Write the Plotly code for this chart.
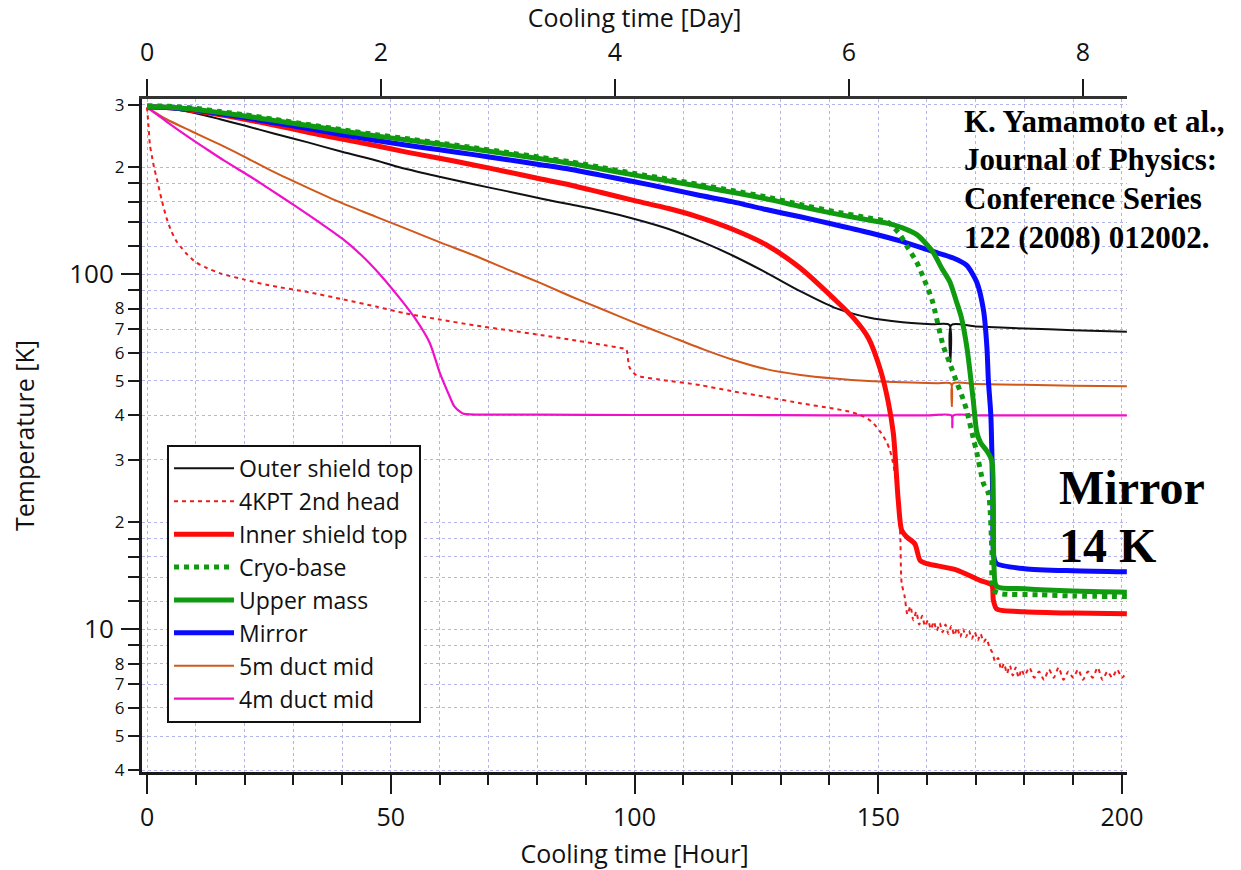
import plotly.graph_objects as go

# ---------------- data (hours, Kelvin) ----------------
h_outer = [0,3,6,10,15,20,26,33,40,47,53,60,67,74,81,87,93,100,107,114,120,127,134,141,148,155,161,164.6,164.8,165.0,170,180,190,201]
T_outer = [296,294,291,284,273,262,249,235,221,209,198,188,179,171,163,157,151,143,134,123,113,101,89.5,80.5,75.5,73.2,72.2,71.9,56.6,71.9,71.2,70.3,69.5,68.8]

h_4kpt = [0,0.3,0.6,1,1.5,2,3,4,5,6,7,8,9,10,12,15,20,25,33,40,47,53,60,67,74,81,88,94,97.7,98.3,99,100.4,105,113.4,120,127,134,140.8,144,146.3,148,149,150.4,151.7,152.4,153,153.4,154,154.5,154.8,
          155.4,156,156.6,157.2,157.8,158.4,159,159.6,160.2,160.8,161.4,162,162.6,163.2,163.8,164.4,165,165.6,166.2,166.8,167.4,168,168.6,169.2,169.8,170.4,171,171.6,172.2,172.8,173.4,174,174.6,175.2,175.8,176.4,177,177.6,178.2,178.8,179.4,
          180,181,182,183,184,185,186,187,188,189,190,191,192,193,194,195,196,197,198,199,200,201]
T_4kpt = [295,262,231,215,198,186,162,144,132,124,119,114.5,111,108,104.5,100.5,96.5,93,89,85,81,77.5,74.5,71.8,69.5,67.3,65,63,61.8,61.5,54.5,51.9,50.5,48.7,46.8,45.1,43.3,41.8,41,40.1,39,38,36,33.7,31.9,29.5,27.5,23,18.6,13.5,
          12.4,11.0,11.6,10.6,11.2,10.3,10.9,10.2,10.6,10.0,10.5,9.9,10.4,9.8,10.3,9.7,10.2,9.6,10.1,9.5,10.0,9.5,9.9,9.4,9.8,9.3,9.7,9.2,9.4,8.9,8.6,8.1,8.3,7.7,8.0,7.5,7.9,7.4,7.8,7.3,7.7,
          7.4,7.8,7.3,7.6,7.2,7.7,7.3,7.8,7.2,7.6,7.3,7.7,7.2,7.6,7.3,7.8,7.2,7.6,7.3,7.7,7.3,7.6]

h_inner = [0,3,6,10,15,20,26,33,40,47,53,60,67,74,81,87,93,100,107,113,120,127,134,141,145,148,150.4,152,153.1,154.1,154.8,155.8,157.5,158.6,160,166,171,173.3,173.6,174.3,180,190,201]
T_inner = [296,295,293,288,281,273,263,251,240,230,221,212,203,194,185,178,170,161,153,145,134,121,104,85,75,66,54,44,35.6,23.1,19,18.2,17.4,15.6,15.3,14.7,13.7,13.3,12.1,11.4,11.2,11.1,11.05]

h_cryo = [0,3,6,10,15,20,26,33,40,47,53,60,67,74,81,87,93,100,107,113,120,127,134,141,148,152,154.5,156,157.9,159.5,161,163.3,164.7,166,167.4,168.1,169.5,170.2,171.6,172.6,173.3,173.6,175,183,190,201]
T_cryo = [298,297.5,296,293,287,281,273,264,255,247,241,234,227,220,213,207,200,192,185,179,172,165,157,150,144,140,129,119,108,96,85,63,56,50,44.5,41.5,34.5,31.5,25.7,24.1,16.7,12.9,12.6,12.5,12.4,12.35]

h_upper = [0,3,6,10,15,20,26,33,40,47,53,60,67,74,81,87,93,100,107,113,120,127,134,141,148,152,155,158,160,161.3,163,164.7,166,167,168.2,169.5,170.2,171,172.2,173.3,173.6,173.75,174.3,180,190,201]
T_upper = [296,295.5,294,291,285,279,271,262,253,245,239,232,225,218,211,205,198,190,183,177,170,163,155,148,142,139,135,129,121,115,104,95,84,76,62,44,36,33.5,31.9,29.9,23,15,13.2,13.0,12.8,12.7]

h_mirror = [0,3,6,10,15,20,26,33,40,47,53,60,67,74,81,87,93,100,107,113,120,127,134,141,148,154.5,161,165.4,168.1,170.2,171.6,172.3,172.6,173.1,173.5,173.7,174.3,180,190,201]
T_mirror = [296,295,293,290,283,276,267,257,247,238,231,224,217,210,203,197,190,182,174,167,160,152,145,138,131,124,116,111,106,95,79,62,50,40,23,16,15.3,14.8,14.6,14.5]

h_duct5 = [0,4,9,15,20,26,33,40,47,53,60,67,74,81,87,93,100,107,114,120,127,134,141,148,155,162,164.9,165.1,165.3,170,180,190,201]
T_duct5 = [295,273,253,231.5,214,194,175,158.5,145,134.5,123,113,103,94,86.5,80,73,67,61.5,57.5,54,52,50.8,50,49.6,49.3,49.2,42.5,49.2,49,48.8,48.5,48.3]

h_duct4 = [0,2,4,8,12,16,21,25,30,35,40,44,48,52,55,58,60,61,62,63,64.2,65,70,80,100,120,140,160,165.0,165.2,165.4,170,180,201]
T_duct4 = [295,282,269,246,226,208,189,174,157,141,126,113,99,85,75,64,53,49,45.5,42.5,41,40.4,40.2,40.2,40.1,40.1,40.0,40.0,40.0,37.0,40.0,40.0,40.0,40.0]

hour_ticks = [0, 50, 100, 150, 200]
day_ticks = [0, 2, 4, 6, 8]
y_small_vals = [4, 5, 6, 7, 8, 10, 20, 30, 40, 50, 60, 70, 80, 100, 200, 300]
y_small_text = ["4", "5", "6", "7", "8", "", "2", "3", "4", "5", "6", "7", "8", "", "2", "3"]
y_minor_vals = [9, 12, 14, 16, 18, 90, 120, 140, 160, 180]
y_decade_vals = [10, 100]
y_decade_text = ["10", "100"]

# ---------------- figure ----------------
GRID = "#b4b4ec"
AX = "#1a1a1a"
FONT = "Open Sans"

series = [
    ("Outer shield top", h_outer, T_outer, "#111111", 2, "solid"),
    ("4KPT 2nd head", h_4kpt, T_4kpt, "#ee1c1c", 2, "4px,4px"),
    ("Inner shield top", h_inner, T_inner, "#ff0a0a", 5, "solid"),
    ("Cryo-base", h_cryo, T_cryo, "#109a10", 5, "5px,5px"),
    ("Upper mass", h_upper, T_upper, "#109a10", 5, "solid"),
    ("Mirror", h_mirror, T_mirror, "#0a0aff", 5, "solid"),
    ("5m duct mid", h_duct5, T_duct5, "#d2581a", 2, "solid"),
    ("4m duct mid", h_duct4, T_duct4, "#f010c8", 2.2, "solid"),
]

fig = go.Figure()
order = [6, 7, 1, 0, 2, 5, 4, 3]
for k in order:
    name, hx, ty, col, w, dash = series[k]
    fig.add_trace(go.Scatter(x=hx, y=ty, mode="lines", name=name,
                             line=dict(color=col, width=w, dash=dash, shape="spline", smoothing=0.7),
                             legendrank=k + 1, hoverinfo="skip"))

# dummy traces so that the secondary axes render
fig.add_trace(go.Scatter(x=[day_ticks[0], day_ticks[-1]], y=[100, 100], xaxis="x2", yaxis="y",
                         mode="lines", line=dict(width=0), opacity=0, showlegend=False, hoverinfo="skip"))
fig.add_trace(go.Scatter(x=[hour_ticks[0], hour_ticks[-1]], y=[100, 100], xaxis="x", yaxis="y3",
                         mode="lines", line=dict(width=0), opacity=0, showlegend=False, hoverinfo="skip"))

x0, x1 = -1.03, 201.03
ylo, yhi = 0.5977, 2.4932

fig.update_layout(
    width=1241, height=870,
    margin=dict(l=142, r=114, t=99, b=98),
    paper_bgcolor="white", plot_bgcolor="white",
    font=dict(family=FONT, color="#111111"),
    xaxis=dict(range=[x0, x1], tickvals=hour_ticks, ticks="outside", ticklen=19, tickwidth=2,
               tickcolor=AX, showline=True, linewidth=3, linecolor=AX,
               showgrid=True, gridcolor=GRID, griddash="dot", gridwidth=1, zeroline=False,
               tickfont=dict(size=25, family=FONT), ticklabelstandoff=2,
               minor=dict(dtick=10, tick0=0, ticks="outside", ticklen=10, tickwidth=2, tickcolor=AX,
                          showgrid=True, gridcolor=GRID, griddash="dot", gridwidth=1),
               title=dict(text="Cooling time [Hour]", font=dict(size=25, family=FONT), standoff=22),
               automargin=False),
    xaxis2=dict(range=[x0 / 24, x1 / 24], overlaying="x", side="top", anchor="y",
                tickvals=day_ticks, ticks="outside", ticklen=17, tickwidth=2, tickcolor=AX,
                showline=True, linewidth=3, linecolor="#333333", showgrid=False, zeroline=False,
                tickfont=dict(size=25, family=FONT), ticklabelstandoff=8,
                title=dict(text="Cooling time [Day]", font=dict(size=25, family=FONT), standoff=8),
                automargin=False),
    yaxis=dict(type="log", range=[ylo, yhi], tickvals=y_small_vals, ticktext=y_small_text,
               ticks="outside", ticklen=11, tickwidth=2, tickcolor=AX,
               showline=True, linewidth=3, linecolor=AX,
               showgrid=True, gridcolor=GRID, griddash="dot", gridwidth=1, zeroline=False,
               tickfont=dict(size=17, family=FONT), ticklabelstandoff=0,
               minor=dict(tickvals=y_minor_vals, ticks="outside", ticklen=11, tickwidth=2, tickcolor=AX,
                          showgrid=True, gridcolor=GRID, griddash="dot", gridwidth=1),
               title=dict(text="Temperature [K]", font=dict(size=25, family=FONT), standoff=74),
               automargin=False),
    yaxis3=dict(type="log", range=[ylo, yhi], overlaying="y", side="left", anchor="x",
                tickvals=y_decade_vals, ticktext=y_decade_text, ticks="outside", ticklen=20,
                tickwidth=2, tickcolor=AX, showline=False, showgrid=False, zeroline=False,
                tickfont=dict(size=26, family=FONT), ticklabelstandoff=2, automargin=False),
    legend=dict(x=0.0254, y=0.486, xanchor="left", yanchor="top", bgcolor="white",
                bordercolor="#111111", borderwidth=2, font=dict(size=23, family=FONT),
                itemwidth=60, tracegroupgap=0, traceorder="normal"),
    showlegend=True,
)

cite = ["K. Yamamoto et al.,", "Journal of Physics:", "Conference Series", "122 (2008) 012002."]
cite_y = [121, 159, 198, 237]
for t, yy in zip(cite, cite_y):
    fig.add_annotation(text="<b>%s</b>" % t, xref="paper", yref="paper",
                       x=(962 - 142) / 985, y=(772 - yy) / 673, xanchor="left", yanchor="middle",
                       showarrow=False, font=dict(family="Liberation Serif", size=31, color="black"))
for t, yy in zip(["Mirror", "14 K"], [488, 545]):
    fig.add_annotation(text="<b>%s</b>" % t, xref="paper", yref="paper",
                       x=(1057 - 142) / 985, y=(772 - yy) / 673, xanchor="left", yanchor="middle",
                       showarrow=False, font=dict(family="Liberation Serif", size=48, color="black"))

fig.write_html("out.html")
